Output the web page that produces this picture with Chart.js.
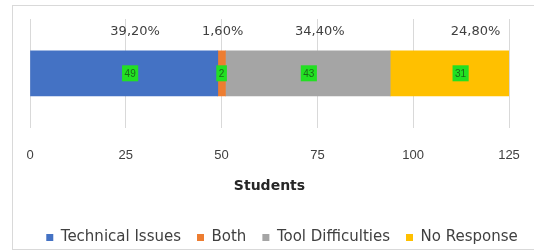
<!DOCTYPE html>
<html><head><meta charset="utf-8">
<script src="https://cdn.jsdelivr.net/npm/chart.js@4/dist/chart.umd.min.js"></script>
<style>
html,body{margin:0;padding:0;background:#fff;}
#wrap{position:absolute;left:12px;top:5px;width:530px;height:245px;border:1px solid #d9d9d9;box-sizing:border-box;}
#c{position:absolute;left:0;top:0;}
</style></head><body>
<div id="wrap"></div>
<canvas id="c" width="534" height="252"></canvas>
<script>
const categories = ["Students"];
const seriesNames = ["Technical Issues", "Both", "Tool Difficulties", "No Response"];
const counts = [49, 2, 43, 31];
const percentLabels = ["39,20%", "1,60%", "34,40%", "24,80%"];
const tickValues = [0, 25, 50, 75, 100, 125];
const colors = ["#4472C4", "#ED7D31", "#A5A5A5", "#FFC000"];

const pctOffsets = [11, 1, 12, 26];
const cntOffsets = [6, 0, 1, 11];
const FONT = '"DejaVu Sans", sans-serif';

const labelPlugin = {
  id: 'labels',
  afterDatasetsDraw(chart) {
    const ctx = chart.ctx;
    ctx.save();
    chart.data.datasets.forEach((ds, i) => {
      const meta = chart.getDatasetMeta(i);
      const el = meta.data[0];
      const left = Math.min(el.x, el.base), right = Math.max(el.x, el.base);
      const cx = (left + right) / 2;
      const top = el.y - el.height / 2;
      ctx.font = '13px ' + FONT;
      ctx.fillStyle = '#404040';
      ctx.textAlign = 'center';
      ctx.textBaseline = 'middle';
      ctx.fillText(percentLabels[i], cx + pctOffsets[i], top - 19);
      const t = String(counts[i]);
      ctx.font = '10px "Liberation Sans", Arial, sans-serif';
      const w = ctx.measureText(t).width + 5;
      const x = cx + cntOffsets[i];
      ctx.fillStyle = '#22e022';
      ctx.fillRect(x - w / 2, el.y - 8, w, 16);
      ctx.fillStyle = '#1a6a1a';
      ctx.fillText(t, x, el.y + 1);
    });
    ctx.restore();
  }
};

new Chart(document.getElementById('c'), {
  type: 'bar',
  data: {
    labels: categories,
    datasets: seriesNames.map((n, i) => ({
      label: n,
      data: [counts[i]],
      backgroundColor: colors[i],
      borderWidth: 0,
      barThickness: 45
    }))
  },
  options: {
    indexAxis: 'y',
    responsive: false,
    animation: false,
    devicePixelRatio: 1,
    layout: { padding: { left: 30, right: 0, top: 19, bottom: -3 } },
    plugins: {
      legend: {
        position: 'bottom',
        labels: {
          boxWidth: 7, boxHeight: 7, padding: 16,
          color: '#404040',
          font: { size: 15, family: FONT }
        }
      },
      tooltip: { enabled: false }
    },
    scales: {
      x: {
        stacked: true,
        min: 0, max: 125,
        afterBuildTicks(axis) { axis.ticks = tickValues.map(v => ({ value: v })); },
        afterFit(scale) { scale.paddingLeft = 0; scale.paddingRight = 25; },
        grid: { color: '#d9d9d9', drawTicks: false },
        border: { display: false },
        ticks: {
          padding: 20,
          color: '#404040',
          font: { size: 13, family: '"Liberation Sans", Arial, sans-serif' }
        },
        title: {
          display: true, text: 'Students',
          color: '#262626',
          font: { size: 14, weight: 'bold', family: FONT },
          padding: { top: -5, bottom: 19 }
        }
      },
      y: { stacked: true, display: false }
    }
  },
  plugins: [labelPlugin]
});
</script>
</body></html>
